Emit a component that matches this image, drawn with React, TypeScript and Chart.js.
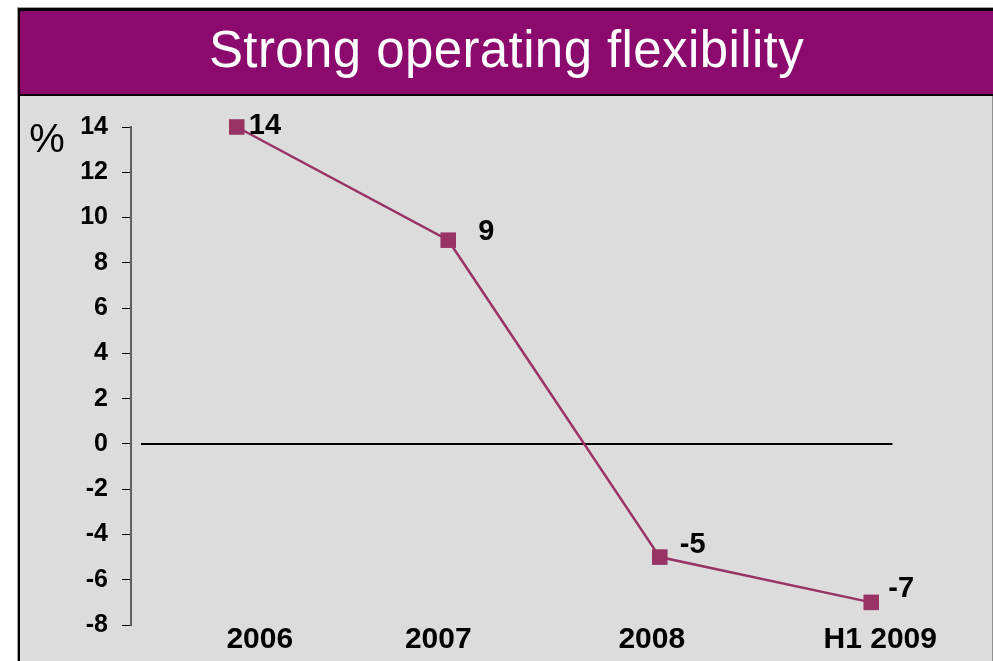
import React, { useEffect, useRef } from 'react';
import { Chart, registerables } from 'chart.js';

Chart.register(...registerables);

// ---- data ----
const categories = ['2006', '2007', '2008', 'H1 2009'];
const values = [14, 9, -5, -7];
const yMin = -8;
const yMax = 14;
const yStep = 2;
const titleText = 'Strong operating flexibility';
const unitLabel = '%';

// ---- styles ----
const FONT = '"Liberation Sans", Arial, Helvetica, sans-serif';
const PLUM = '#993366';
const HEADER = '#8C0A6E';
const PANEL = '#DCDCDC';
const valueLabelOffsets: [number, number][] = [
  [12, -1],
  [30, -8],
  [20, -12],
  [17, -13],
];
const categoryLabelShift = [23, -10, -8, 9];

const overlayPlugin = {
  id: 'overlay',
  beforeDatasetsDraw(chart: any) {
    const { ctx, chartArea, scales } = chart;
    const x = scales.x;
    const y = scales.y;
    const y0 = y.getPixelForValue(0);
    ctx.save();
    ctx.strokeStyle = '#000';
    ctx.lineWidth = 2;
    ctx.beginPath();
    ctx.moveTo(chartArea.left + 10, y0);
    ctx.lineTo(x.getPixelForValue(values.length - 1 + 0.1), y0);
    ctx.stroke();
    ctx.restore();
  },
  afterDatasetsDraw(chart: any) {
    const { ctx, chartArea, scales } = chart;
    const meta = chart.getDatasetMeta(0);
    ctx.save();
    ctx.fillStyle = '#000';
    ctx.font = `bold 29px ${FONT}`;
    ctx.textAlign = 'left';
    ctx.textBaseline = 'middle';
    meta.data.forEach((pt: any, i: number) => {
      const [dx, dy] = valueLabelOffsets[i] || [16, -8];
      ctx.fillText(String(values[i]), pt.x + dx, pt.y + dy);
    });
    // category labels
    ctx.font = `bold 30px ${FONT}`;
    ctx.textAlign = 'center';
    ctx.textBaseline = 'alphabetic';
    categories.forEach((c, i) => {
      ctx.fillText(c, scales.x.getPixelForValue(i) + (categoryLabelShift[i] || 0), chartArea.bottom + 23);
    });
    // unit label
    ctx.font = `40px ${FONT}`;
    ctx.textAlign = 'center';
    ctx.textBaseline = 'middle';
    ctx.fillText(unitLabel, chartArea.left - 84, scales.y.getPixelForValue(yMax) + 14);
    ctx.restore();
  },
};

function LineChart() {
  const ref = useRef<HTMLCanvasElement | null>(null);
  useEffect(() => {
    if (!ref.current) return;
    const chart = new Chart(ref.current, {
      type: 'line',
      data: {
        labels: categories,
        datasets: [
          {
            data: values,
            borderColor: PLUM,
            borderWidth: 2.5,
            backgroundColor: PLUM,
            pointStyle: 'rect',
            pointRadius: 11,
            pointHoverRadius: 11,
            pointBackgroundColor: PLUM,
            pointBorderWidth: 0,
            tension: 0,
            clip: false,
          },
        ],
      },
      options: {
        responsive: false,
        animation: false,
        events: [],
        layout: { padding: { top: 31, right: 15, left: 0, bottom: 0 } },
        plugins: {
          legend: { display: false },
          title: { display: false },
          tooltip: { enabled: false },
        },
        scales: {
          x: {
            offset: true,
            grid: { display: false },
            border: { display: false },
            ticks: { display: false },
            afterFit: (s: any) => {
              s.height = 36;
            },
          },
          y: {
            min: yMin,
            max: yMax,
            grid: {
              display: true,
              drawOnChartArea: false,
              drawTicks: true,
              tickLength: 9,
              color: '#000',
              lineWidth: 1,
            },
            border: { display: true, color: '#606060', width: 2 },
            ticks: {
              stepSize: yStep,
              color: '#000',
              font: { family: FONT, size: 25, weight: 'bold' },
              padding: 14,
            },
            afterFit: (s: any) => {
              s.width = 111;
            },
          },
        },
      },
      plugins: [overlayPlugin],
    });
    return () => chart.destroy();
  }, []);
  return <canvas ref={ref} width={972} height={565} style={{ display: 'block' }} />;
}

export default function App() {
  return (
    <div
      style={{
        position: 'absolute',
        left: 0,
        top: 0,
        width: 993,
        height: 661,
        background: '#fff',
        overflow: 'hidden',
      }}
    >
      <div style={{ position: 'absolute', left: 17, top: 7, width: 976, height: 660, background: '#a0a0a0' }} />
      <div style={{ position: 'absolute', left: 18, top: 8, width: 975, height: 660, background: '#000' }} />
      <div
        style={{
          position: 'absolute',
          left: 20,
          top: 11,
          width: 973,
          height: 83,
          background: HEADER,
          color: '#fff',
          fontFamily: FONT,
          fontSize: 51,
          letterSpacing: '0.4px',
          display: 'flex',
          alignItems: 'center',
          justifyContent: 'center',
          lineHeight: 1,
        }}
      >
        <span style={{ position: 'relative', top: -3 }}>{titleText}</span>
      </div>
      <div style={{ position: 'absolute', left: 20, top: 96, width: 972, height: 565, background: PANEL }}>
        <LineChart />
      </div>
      <div style={{ position: 'absolute', left: 992, top: 96, width: 1, height: 565, background: '#909090' }} />
    </div>
  );
}
